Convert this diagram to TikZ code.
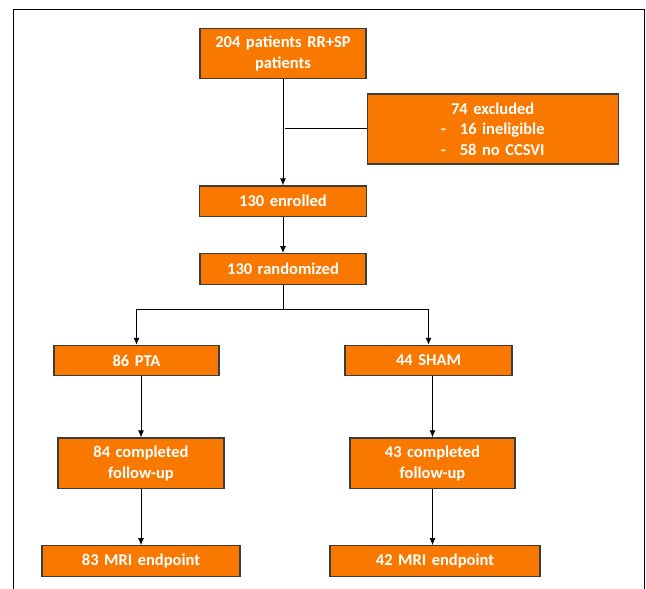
\documentclass[tikz,border=0pt]{standalone}
\usepackage{fontspec}
\setmainfont{Carlito}
\usepackage{tikz}
\usetikzlibrary{arrows.meta,positioning}
\definecolor{flowor}{RGB}{249,120,0}
\definecolor{edgegr}{RGB}{60,60,60}
\tikzstyle{stage}=[rectangle,draw=edgegr,line width=1.2pt,fill=flowor,text=white,align=center,inner sep=0pt,font=\bfseries\fontsize{16.5}{20.5}\selectfont]
\tikzstyle{single}=[stage,minimum height=30.5pt]
\tikzstyle{double}=[stage,minimum height=50.5pt]

\begin{document}
\begin{tikzpicture}
	\useasboundingbox (0,0) rectangle (646pt,-589pt);
	\begin{scope}[>={Latex[length=7pt,width=6pt]},line width=1pt]
		\node[double,text width=166pt]	(total)	at (283pt,-53.5pt)	{204 patients RR+SP\\patients};
		\node[stage,text width=251pt,minimum height=70pt]	(excl)	[below right=14pt and 0pt of total.south east,anchor=north west]	{74 excluded\\-\hspace{14pt}16 ineligible\\-\hspace{14pt}58 no CCSVI};
		\node[single,text width=167pt]	(enrol)	[below=106pt of total]	{130 enrolled};
		\node[single,text width=166pt]	(rand)	[below=36pt of enrol]	{130 randomized};
		\node[single,text width=165pt]	(pta)	[below=60pt of rand,xshift=-146.5pt]	{86 PTA};
		\node[single,text width=167pt]	(sham)	[below=60pt of rand,xshift=145.5pt]	{44 SHAM};
		\node[double,text width=166pt]	(ptafu)	[below=61pt of pta,xshift=4.5pt]	{84 completed\\follow-up};
		\node[double,text width=165pt]	(shamfu)	[below=61pt of sham,xshift=4pt]	{43 completed\\follow-up};
		\node[single,text width=198pt]	(ptamri)	[below=56pt of ptafu]	{83 MRI endpoint};
		\node[single,text width=210pt]	(shammri)	[below=56pt of shamfu,xshift=2.5pt]	{42 MRI endpoint};
		\coordinate[below=25pt of rand.south] (split);

		\draw[->]	(total.south) -- (total.south |- enrol.north);
		\draw	(excl.west) -- ([xshift=2pt]excl.west -| total.south);
		\draw[->]	(enrol) -- (rand);
		\draw	(rand) -- (split);
		\draw[->]	(split) -| (pta);
		\draw[->]	(split) -| (sham);
		\draw[->]	(ptafu.north |- pta.south) -- (ptafu);
		\draw[->]	(shamfu.north |- sham.south) -- (shamfu);
		\draw[->]	(ptafu) -- (ptamri);
		\draw[->]	(shamfu.south) -- (shamfu.south |- shammri.north);
	\end{scope}
	% frame round the chart
	\draw[line width=1.2pt] (13.5pt,-600pt) -- (13.5pt,-9.5pt) -- (644.5pt,-9.5pt) -- (644.5pt,-600pt);
\end{tikzpicture}
\end{document}
